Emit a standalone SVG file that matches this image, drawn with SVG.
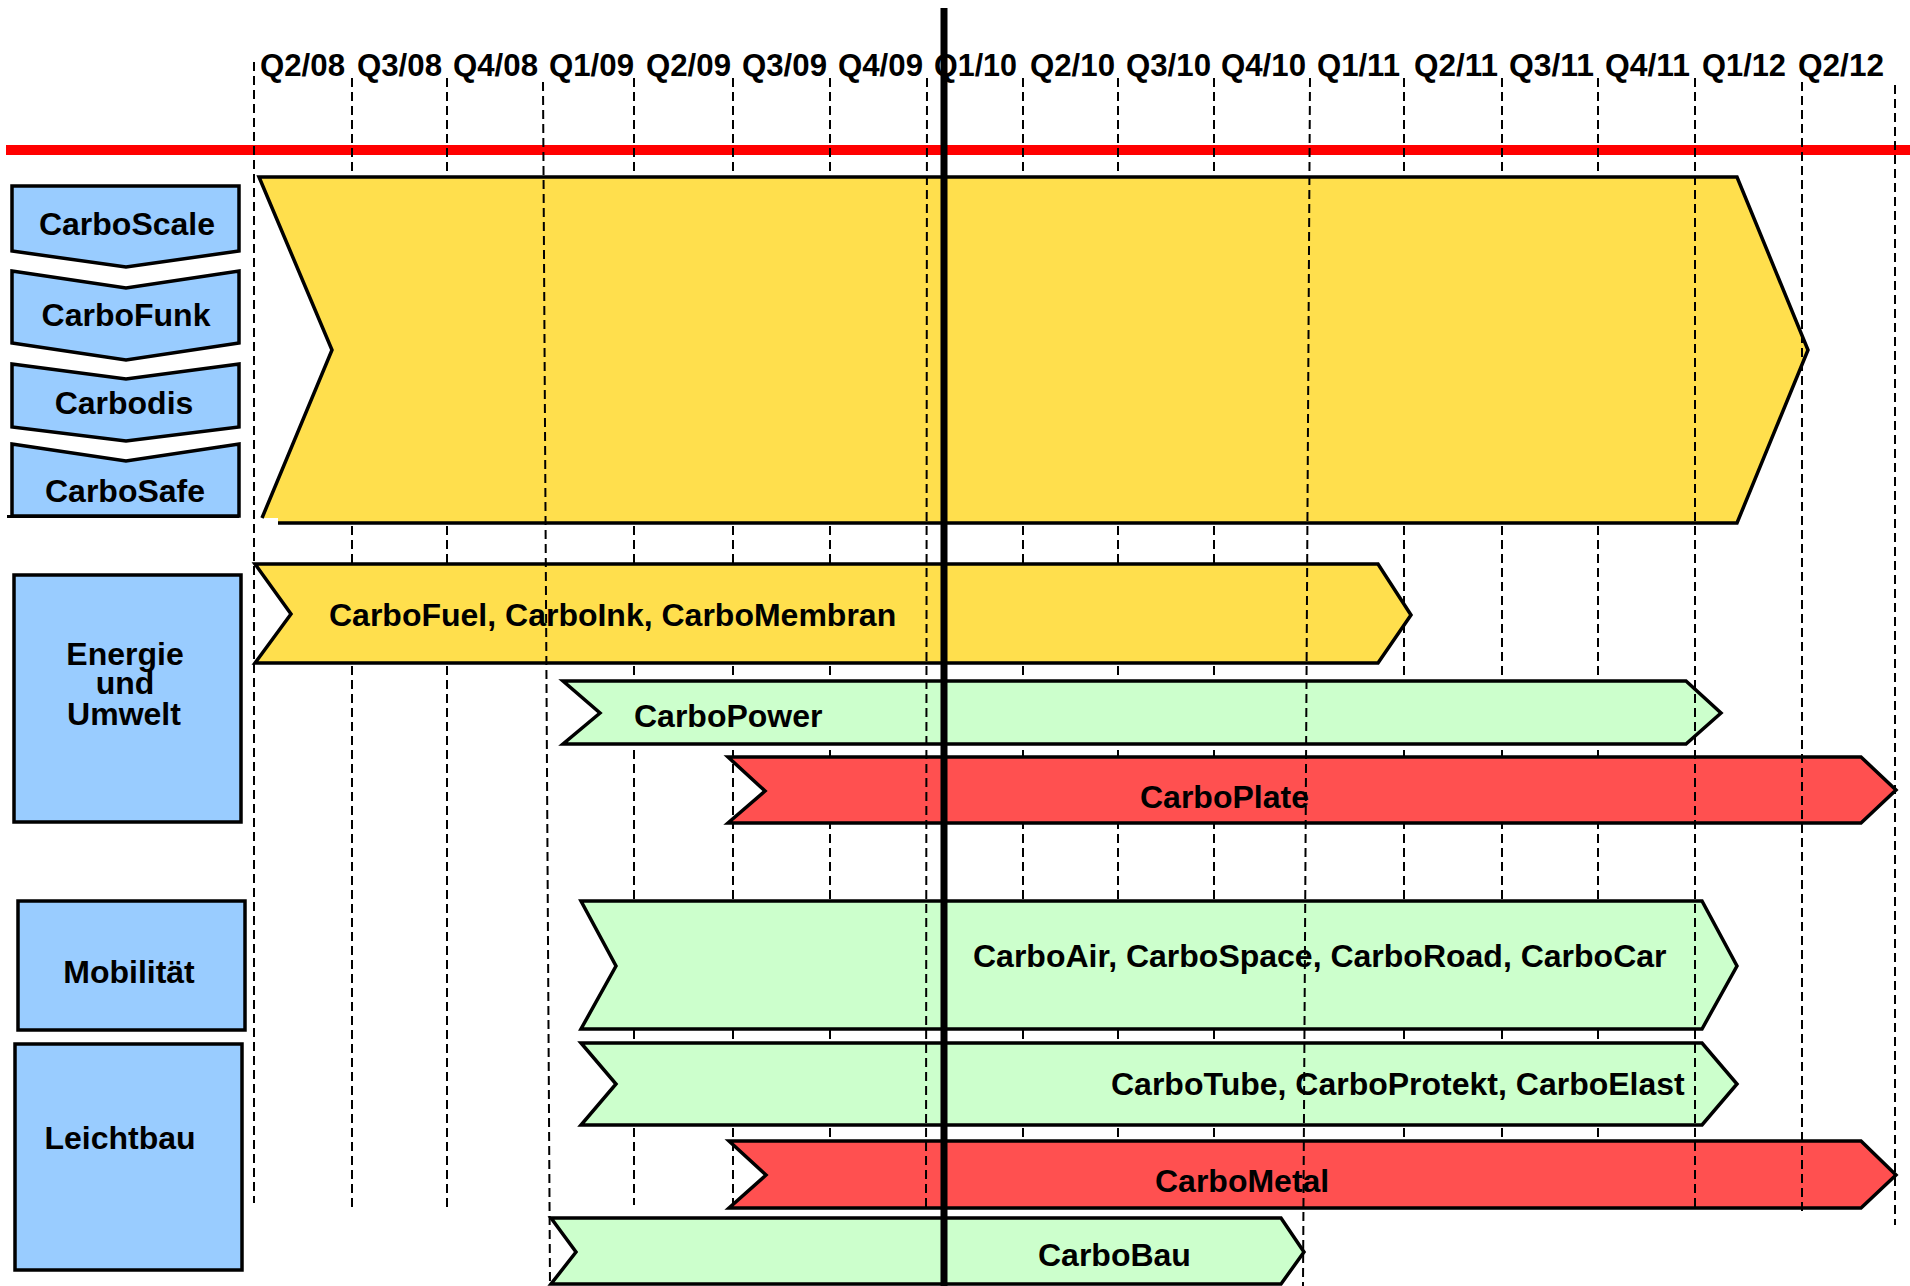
<svg xmlns="http://www.w3.org/2000/svg" width="1910" height="1286" viewBox="0 0 1910 1286">
<style>
  .lbl{font-family:"Liberation Sans",Arial,sans-serif;font-weight:bold;font-size:32px;fill:#000}
  .q{font-family:"Liberation Sans",Arial,sans-serif;font-weight:bold;font-size:32px;fill:#000}
  .c{text-anchor:middle}
  .box{fill:#99CCFF;stroke:#000;stroke-width:3.5;stroke-linejoin:miter}
  .yel{fill:#FFDF4D;stroke:#000;stroke-width:3.5}
  .grn{fill:#CCFFCC;stroke:#000;stroke-width:3.5}
  .red{fill:#FF5050;stroke:#000;stroke-width:3.5}
  .dash{stroke:#000;stroke-width:2;stroke-dasharray:9 5;fill:none}
</style>
<rect x="0" y="0" width="1910" height="1286" fill="#fff"/>

<g id="timeline-labels">
  <text class="q" x="260" y="76" textLength="85" lengthAdjust="spacingAndGlyphs">Q2/08</text>
  <text class="q" x="357" y="76" textLength="85" lengthAdjust="spacingAndGlyphs">Q3/08</text>
  <text class="q" x="453" y="76" textLength="85" lengthAdjust="spacingAndGlyphs">Q4/08</text>
  <text class="q" x="549" y="76" textLength="85" lengthAdjust="spacingAndGlyphs">Q1/09</text>
  <text class="q" x="646" y="76" textLength="85" lengthAdjust="spacingAndGlyphs">Q2/09</text>
  <text class="q" x="742" y="76" textLength="85" lengthAdjust="spacingAndGlyphs">Q3/09</text>
  <text class="q" x="838" y="76" textLength="85" lengthAdjust="spacingAndGlyphs">Q4/09</text>
  <text class="q" x="934" y="76" textLength="83" lengthAdjust="spacingAndGlyphs">Q1/10</text>
  <text class="q" x="1030" y="76" textLength="85" lengthAdjust="spacingAndGlyphs">Q2/10</text>
  <text class="q" x="1126" y="76" textLength="85" lengthAdjust="spacingAndGlyphs">Q3/10</text>
  <text class="q" x="1221" y="76" textLength="85" lengthAdjust="spacingAndGlyphs">Q4/10</text>
  <text class="q" x="1317" y="76" textLength="83" lengthAdjust="spacingAndGlyphs">Q1/11</text>
  <text class="q" x="1414" y="76" textLength="84" lengthAdjust="spacingAndGlyphs">Q2/11</text>
  <text class="q" x="1509" y="76" textLength="85" lengthAdjust="spacingAndGlyphs">Q3/11</text>
  <text class="q" x="1605" y="76" textLength="85" lengthAdjust="spacingAndGlyphs">Q4/11</text>
  <text class="q" x="1702" y="76" textLength="84" lengthAdjust="spacingAndGlyphs">Q1/12</text>
  <text class="q" x="1798" y="76" textLength="86" lengthAdjust="spacingAndGlyphs">Q2/12</text>
</g>

<rect id="today-bar" x="6" y="145" width="1904" height="10" fill="#FF0000"/>

<g id="connectors">
  <g id="grid-back">
    <line class="dash" x1="352" y1="78" x2="352" y2="1207"/>
    <line class="dash" x1="447" y1="78" x2="447" y2="1207"/>
    <line class="dash" x1="634" y1="78" x2="634" y2="1205"/>
    <line class="dash" x1="733" y1="78" x2="733" y2="1205"/>
    <line class="dash" x1="830" y1="78" x2="830" y2="1205"/>
    <line class="dash" x1="1023" y1="78" x2="1023" y2="1207"/>
    <line class="dash" x1="1118" y1="78" x2="1118" y2="1207"/>
    <line class="dash" x1="1214" y1="78" x2="1214" y2="1207"/>
    <line class="dash" x1="1404" y1="78" x2="1404" y2="1207"/>
    <line class="dash" x1="1502" y1="78" x2="1502" y2="1207"/>
    <line class="dash" x1="1598" y1="78" x2="1598" y2="1207"/>
  </g>
</g>

<g id="CarboScale">
  <polygon class="box" points="12,186 239,186 239,251 126,267 12,251"/>
  <text class="lbl c" x="127" y="235">CarboScale</text>
</g>
<g id="CarboFunk">
  <polygon class="box" points="12,271 126,288 239,271 239,343 126,360 12,343"/>
  <text class="lbl c" x="126" y="326">CarboFunk</text>
</g>
<g id="Carbodis">
  <polygon class="box" points="12,364 126,379 239,364 239,427 126,441 12,427"/>
  <text class="lbl c" x="124" y="414">Carbodis</text>
</g>
<g id="CarboSafe">
  <polygon class="box" points="12,444 126,461 239,444 239,516 12,516"/>
  <line x1="7" y1="516.5" x2="239" y2="516.5" stroke="#000" stroke-width="3"/>
  <text class="lbl c" x="125" y="502">CarboSafe</text>
</g>
<g id="EnergieUmwelt">
  <rect class="box" x="14" y="575" width="227" height="247"/>
  <text class="lbl c" x="125" y="665">Energie</text>
  <text class="lbl c" x="125" y="694">und</text>
  <text class="lbl c" x="124" y="725">Umwelt</text>
</g>
<g id="Mobilitaet">
  <rect class="box" x="18" y="901" width="227" height="129"/>
  <text class="lbl c" x="129" y="983">Mobilität</text>
</g>
<g id="Leichtbau">
  <rect class="box" x="15" y="1044" width="227" height="226"/>
  <text class="lbl c" x="120" y="1149">Leichtbau</text>
</g>

<g id="Plattform">
  <polygon points="259,177 1737,177 1808,350 1737,523 278,523 278,518 262,518 332,350" fill="#FFDF4D"/>
  <polyline points="262,518 332,350 259,177 1737,177 1808,350 1737,523 278,523" fill="none" stroke="#000" stroke-width="3.5"/>
</g>
<g id="CarboFuel">
  <polygon class="yel" points="255,564 1378,564 1411,615 1378,663 255,663 291,614"/>
  <text class="lbl" x="329" y="626">CarboFuel, CarboInk, CarboMembran</text>
</g>
<g id="CarboPower">
  <polygon class="grn" points="563,681 1686,681 1721,713 1686,744 563,744 600,713"/>
  <text class="lbl" x="634" y="727">CarboPower</text>
</g>
<g id="CarboPlate">
  <polygon class="red" points="728,757 1861,757 1896,790 1861,823 728,823 765,791"/>
  <text class="lbl" x="1140" y="808">CarboPlate</text>
</g>
<g id="CarboAir">
  <polygon class="grn" points="581,901 1702,901 1737,966 1702,1029 581,1029 616,966"/>
  <text class="lbl" x="973" y="967">CarboAir, CarboSpace, CarboRoad, CarboCar</text>
</g>
<g id="CarboTube">
  <polygon class="grn" points="581,1043 1702,1043 1737,1084 1702,1125 581,1125 616,1084"/>
  <text class="lbl" x="1111" y="1095">CarboTube, CarboProtekt, CarboElast</text>
</g>
<g id="CarboMetal">
  <polygon class="red" points="729,1141 1861,1141 1896,1175 1861,1208 729,1208 766,1175"/>
  <text class="lbl" x="1155" y="1192">CarboMetal</text>
</g>
<g id="CarboBau">
  <polygon class="grn" points="551,1218 1281,1218 1304,1252 1281,1284 551,1284 576,1252"/>
  <text class="lbl" x="1038" y="1266">CarboBau</text>
</g>

<g id="grid-front">
  <line class="dash" x1="254" y1="62" x2="254" y2="1203"/>
  <line class="dash" x1="543" y1="82" x2="550" y2="1286"/>
  <line class="dash" x1="927" y1="78" x2="926" y2="1207"/>
  <line class="dash" x1="1310" y1="78" x2="1303" y2="1286"/>
  <line class="dash" x1="1695" y1="78" x2="1695" y2="1211"/>
  <line class="dash" x1="1802" y1="82" x2="1802" y2="1211"/>
  <line class="dash" x1="1895" y1="85" x2="1895" y2="1225"/>
</g>

<line id="now-line" x1="944" y1="8" x2="944" y2="1286" stroke="#000" stroke-width="7"/>
</svg>
